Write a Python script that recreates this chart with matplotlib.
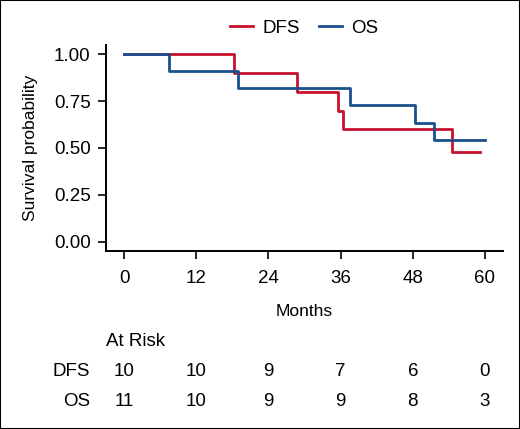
import matplotlib
matplotlib.use('Agg')
from matplotlib import pyplot as plt
from matplotlib.transforms import blended_transform_factory
from matplotlib.patches import Rectangle
from matplotlib.lines import Line2D

plt.rcParams['font.family'] = ['Liberation Sans', 'DejaVu Sans']

# Kaplan-Meier steps
dfs_t = [0, 18.2, 28.8, 35.6, 36.4, 54.5, 59.1]
dfs_s = [1.0, 0.90, 0.80, 0.70, 0.60, 0.48, 0.48]
os_t = [0, 7.4, 19.0, 37.5, 48.3, 51.5, 60.0]
os_s = [1.0, 0.909, 0.818, 0.727, 0.636, 0.545, 0.545]

risk_times = [0, 12, 24, 36, 48, 60]
dfs_risk = [10, 10, 9, 7, 6, 0]
os_risk = [11, 10, 9, 9, 8, 3]

red = '#C8102E'
blue = '#1B4F8A'
fs = 13.5

fig = plt.figure(figsize=(5.2, 4.29), dpi=100)
ax = fig.add_axes([106/520, 1 - 251/429, 397/520, 206/429])

ax.step(dfs_t, dfs_s, where='post', color=red, lw=2)
ax.step(os_t, os_s, where='post', color=blue, lw=2)

ax.set_xlim(-3, 63)
ax.set_ylim(-0.05, 1.05)
ax.set_xticks(risk_times)
ax.set_yticks([0, 0.25, 0.5, 0.75, 1.0])
ax.set_yticklabels(['0.00', '0.25', '0.50', '0.75', '1.00'])
for s in ['top', 'right']:
    ax.spines[s].set_visible(False)
for s in ['left', 'bottom']:
    ax.spines[s].set_linewidth(1.4)
ax.tick_params(width=1.2, length=6, labelsize=fs, colors='black')
ax.tick_params(axis='x', pad=8)
ax.tick_params(axis='y', pad=5)
ax.set_xlabel('Months', fontsize=12.5, va='center')
ax.set_ylabel('Survival probability', fontsize=12.5, va='center')
ax.xaxis.set_label_coords(0.5, -60/206)
ax.yaxis.set_label_coords(-76/397, 0.5)

# legend at the top
handles = [Line2D([], [], color=red, lw=2), Line2D([], [], color=blue, lw=2)]
fig.legend(handles, ['DFS', 'OS'], loc='center', bbox_to_anchor=(0.585, 1 - 28/429),
           ncol=2, frameon=False, fontsize=fs, handlelength=1.25, handletextpad=0.5,
           columnspacing=1.0)

# at-risk table
tr = blended_transform_factory(ax.transData, fig.transFigure)
fig.text(106/520, 1 - 342/429, 'At Risk', fontsize=fs, ha='left', va='center')
for label, vals, yp in [('DFS', dfs_risk, 372), ('OS', os_risk, 401)]:
    fig.text(90/520, 1 - yp/429, label, fontsize=fs, ha='right', va='center')
    for t, v in zip(risk_times, vals):
        ax.text(t, 1 - yp/429, str(v), transform=tr, fontsize=fs,
                ha='center', va='center')

fig.patches.append(Rectangle((0, 0), 1, 1, transform=fig.transFigure, fill=False,
                             edgecolor='black', lw=1.5))

fig.savefig('out.png', dpi=100)
